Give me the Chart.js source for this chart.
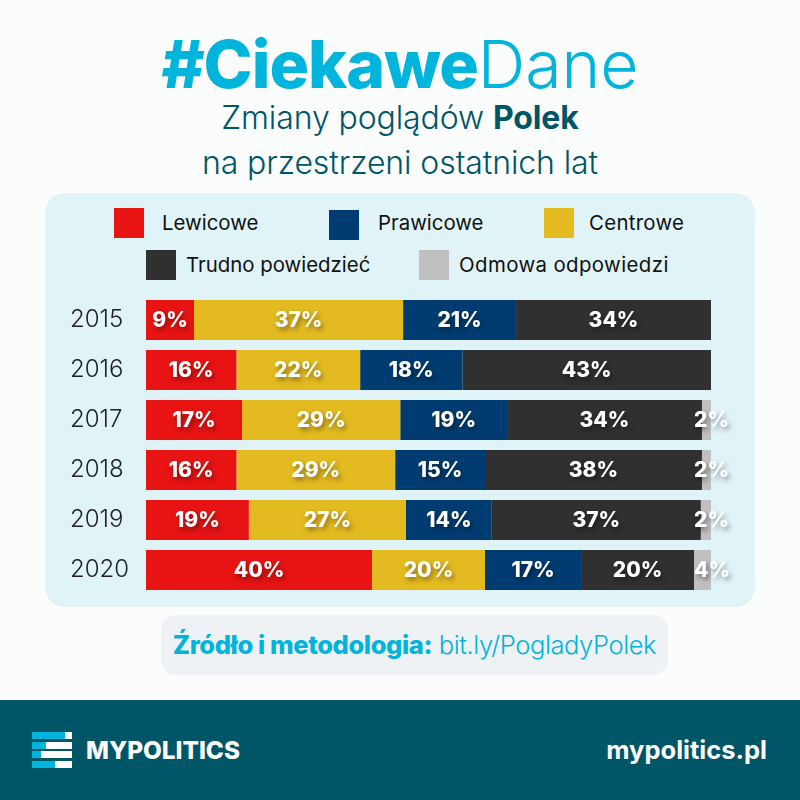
<!DOCTYPE html>
<html lang="pl">
<head>
<meta charset="utf-8">
<title>Zmiany poglądów Polek</title>
<script src="https://cdn.jsdelivr.net/npm/chart.js@4/dist/chart.umd.min.js"></script>
<style>
  html, body { margin: 0; padding: 0; }
  body { width: 800px; height: 800px; position: relative; overflow: hidden; background: #fbfcfc; font-family: Inter, sans-serif; }
  .abs { position: absolute; white-space: nowrap; }
  .center { left: 0; width: 800px; text-align: center; }
  #title { top: 22px; font-size: 66px; line-height: 84px; color: #00b4dc; font-weight: 800; letter-spacing: -1px; }
  #title span { font-weight: 300; letter-spacing: 0; }
  .sub { font-size: 32px; line-height: 40px; color: #005566; font-weight: 300; letter-spacing: -0.1px; }
  .sub b { font-weight: 700; }
  #panel { left: 45px; top: 193px; width: 710px; height: 414px; background: #e0f4f8; border-radius: 20px; }
  #source { left: 161px; top: 615px; width: 507px; height: 60px; background: #eff2f4; border-radius: 15px; text-align: center; line-height: 60px; font-size: 25.5px; color: #00b4dc; font-weight: 300; letter-spacing: -0.4px; }
  #source b { font-weight: 800; }
  #footer { left: 0; top: 700px; width: 800px; height: 100px; background: #005566; }
  #brand { left: 86px; top: 733px; font-size: 24.3px; line-height: 34px; font-weight: 800; color: #fff; }
  #site { right: 33px; top: 732px; font-size: 25.5px; line-height: 36px; font-weight: 700; color: #fff; }
  .bar { position: absolute; height: 7px; background: #fff; }
  .bar i { display: block; height: 7px; background: #00b4dc; }
  .swatch { position: absolute; width: 30px; height: 30px; }
  .lab { position: absolute; font-size: 20.4px; line-height: 30px; color: #111; white-space: nowrap; }
  canvas { position: absolute; left: 0; top: 0; }
</style>
</head>
<body>
<div class="abs" id="panel"></div>
<div class="abs center" id="title">#Ciekawe<span>Dane</span></div>
<div class="abs center sub" style="top:98px">Zmiany poglądów <b>Polek</b></div>
<div class="abs center sub" style="top:143px">na przestrzeni ostatnich lat</div>
<div id="legend"></div>
<div class="abs" id="source"><b>Źródło i metodologia:</b> bit.ly/PogladyPolek</div>
<div class="abs" id="footer"></div>
<div id="logo"></div>
<div class="abs" id="brand">MYPOLITICS</div>
<div class="abs" id="site">mypolitics.pl</div>
<canvas id="chart" width="800" height="800"></canvas>

<script>
const years = ['2015', '2016', '2017', '2018', '2019', '2020'];

// bar lengths as drawn in the picture (they don't always match the printed labels)
const lewicowe  = [8.5, 16, 17, 16, 18.2, 40];
const centrowe  = [37, 21.9, 28, 28.1, 27.8, 20];
const prawicowe = [20, 18.1, 18.9, 15.9, 15.2, 17];
const trudno    = [34.5, 44, 34.5, 38.4, 37, 20];
const odmowa    = [0, 0, 1.6, 1.6, 1.8, 3];

// printed labels
const lewicoweLabels  = ['9%', '16%', '17%', '16%', '19%', '40%'];
const centroweLabels  = ['37%', '22%', '29%', '29%', '27%', '20%'];
const prawicoweLabels = ['21%', '18%', '19%', '15%', '14%', '17%'];
const trudnoLabels    = ['34%', '43%', '34%', '38%', '37%', '20%'];
const odmowaLabels    = ['', '', '2%', '2%', '2%', '4%'];

const RED = '#e81313', YELLOW = '#e3ba20', BLUE = '#003c71', DARK = '#303030', GREY = '#c0c0c0';

// Legend is laid out by hand, two uneven rows
const legendItems = [
  { text: 'Lewicowe', color: RED, sx: 114, sy: 208, tx: 162, ty: 208, ls: 0 },
  { text: 'Prawicowe', color: BLUE, sx: 329, sy: 210, tx: 378, ty: 208, ls: 0 },
  { text: 'Centrowe', color: YELLOW, sx: 544, sy: 208, tx: 589, ty: 208, ls: 0.3 },
  { text: 'Trudno powiedzieć', color: DARK, sx: 146, sy: 250, tx: 186, ty: 250, ls: 0 },
  { text: 'Odmowa odpowiedzi', color: GREY, sx: 419, sy: 250, tx: 459, ty: 250, ls: 0.4 }
];
document.getElementById('legend').innerHTML = legendItems.map(l =>
  `<div class="swatch" style="left:${l.sx}px;top:${l.sy}px;background:${l.color}"></div>` +
  `<div class="lab" style="left:${l.tx}px;top:${l.ty}px;letter-spacing:${l.ls}px">${l.text}</div>`).join('');

// Logo bars
const logoBars = [[732, 33], [742, 14], [751, 9], [761, 23]];
document.getElementById('logo').innerHTML = logoBars.map(b =>
  `<div class="bar" style="left:32px;top:${b[0]}px;width:40px"><i style="width:${b[1]}px"></i></div>`).join('');

function makeSet(label, data, color, labels) {
  return { label: label, data: data, backgroundColor: color, labels: labels, borderWidth: 0, barPercentage: 0.8, categoryPercentage: 1 };
}

// Prints the % labels with a soft shadow, since datalabels plugin isn't available
const percentLabels = {
  id: 'percentLabels',
  afterDatasetsDraw(chart) {
    const ctx = chart.ctx;
    ctx.save();
    ctx.font = "800 21px Inter, sans-serif";
    ctx.fillStyle = '#fff';
    ctx.textBaseline = 'middle';
    ctx.shadowColor = 'rgba(0,0,0,0.4)';
    ctx.shadowBlur = 5;
    ctx.shadowOffsetX = 2;
    ctx.shadowOffsetY = 3;
    chart.data.datasets.forEach((ds, i) => {
      chart.getDatasetMeta(i).data.forEach((bar, j) => {
        if (!ds.labels[j]) return;
        if (i === chart.data.datasets.length - 1) {
          // the little grey ones start left of the bar and overflow it
          ctx.textAlign = 'left';
          ctx.fillText(ds.labels[j], chart.scales.x.getPixelForValue(97), bar.y + 1);
        } else {
          ctx.textAlign = 'center';
          ctx.fillText(ds.labels[j], (bar.base + bar.x) / 2, bar.y + 1);
        }
      });
    });
    ctx.restore();
  }
};

new Chart(document.getElementById('chart').getContext('2d'), {
  type: 'bar',
  data: {
    labels: years,
    datasets: [
      makeSet('Lewicowe', lewicowe, RED, lewicoweLabels),
      makeSet('Centrowe', centrowe, YELLOW, centroweLabels),
      makeSet('Prawicowe', prawicowe, BLUE, prawicoweLabels),
      makeSet('Trudno powiedzieć', trudno, DARK, trudnoLabels),
      makeSet('Odmowa odpowiedzi', odmowa, GREY, odmowaLabels)
    ]
  },
  options: {
    indexAxis: 'y',
    responsive: false,
    animation: false,
    layout: { padding: { left: 70, right: 89, top: 295, bottom: 205 } },
    plugins: { legend: { display: false }, tooltip: { enabled: false } },
    scales: {
      x: { stacked: true, min: 0, max: 100, display: false },
      y: {
        stacked: true,
        afterFit(axis) { axis.width = 76; },
        grid: { display: false, drawTicks: false },
        border: { display: false },
        ticks: { color: '#222', crossAlign: 'far', font: { family: 'Inter, sans-serif', size: 24, weight: '300' } }
      }
    }
  },
  plugins: [percentLabels]
});
</script>
</body>
</html>
